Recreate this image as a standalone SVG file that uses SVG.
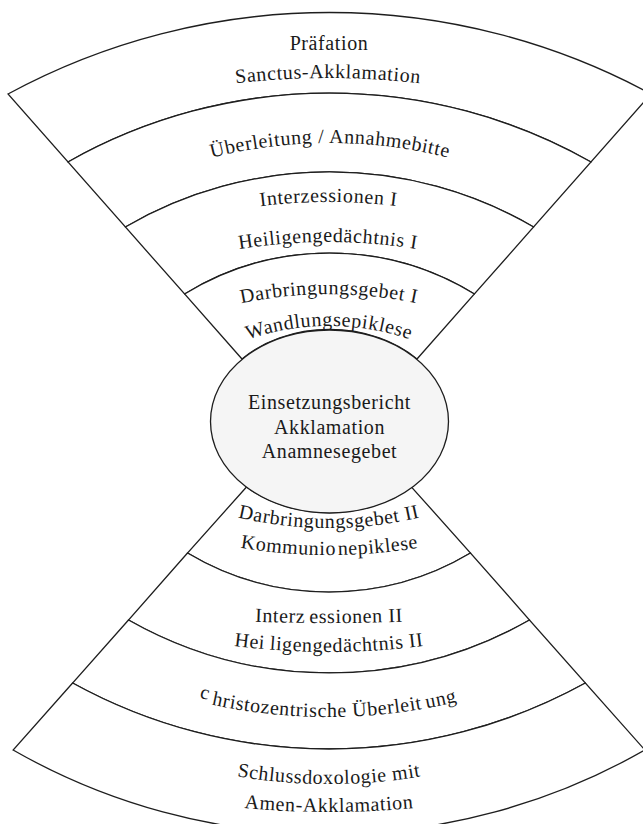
<svg xmlns="http://www.w3.org/2000/svg" xmlns:xlink="http://www.w3.org/1999/xlink" width="643" height="824" viewBox="0 0 643 824">
<style>
.band{fill:#ffffff;stroke:#1e1e1e;stroke-width:1.3;stroke-linejoin:miter}
.core{fill:#f5f5f5;stroke:#1e1e1e;stroke-width:1.3}
.t{font-family:"Liberation Serif","DejaVu Serif",serif;font-size:20px;letter-spacing:0.6px;fill:#1a1a1a;text-anchor:middle}
</style>
<defs>
<path id="p2" d="M178 92.2 A800 800 0 0 1 478 92.2"/>
<path id="p3" d="M180 167 A480 480 0 0 1 480 167"/>
<path id="p4" d="M178.5 222.5 A560 560 0 0 1 478.5 222.5"/>
<path id="p5" d="M178 262.5 A560 560 0 0 1 478 262.5"/>
<path id="p6" d="M179 321.2 A430 430 0 0 1 479 321.2"/>
<path id="p7" d="M179 376 A250 250 0 0 1 479 376"/>
<path id="p8" d="M179 498.8 A400 400 0 0 0 479 498.8"/>
<path id="p9" d="M179.5 534.2 A550 550 0 0 0 479.5 534.2"/>
<path id="p10" d="M179 617.4 A2000 2000 0 0 0 479 617.4"/>
<path id="p11" d="M179 636.8 A750 750 0 0 0 479 636.8"/>
<path id="p12" d="M178 696.2 A550 550 0 0 0 478 696.2"/>
<path id="p13" d="M179 763.2 A550 550 0 0 0 479 763.2"/>
<path id="p14" d="M179 799.4 A900 900 0 0 0 479 799.4"/>
</defs>

<g id="top-band-1">
<path class="band" d="M8 94 A675 675 0 0 1 651 94 L591 162 A531 531 0 0 0 68 162 Z"/>
<text class="t" x="329" y="50">Präfation</text>
<text class="t"><textPath href="#p2" xlink:href="#p2" startOffset="50%">Sanctus-Akklamation</textPath></text>
</g>

<g id="top-band-2">
<path class="band" d="M68 162 A531 531 0 0 1 591 162 L533.6 227 A406 406 0 0 0 125.4 227 Z"/>
<text class="t"><textPath href="#p3" xlink:href="#p3" startOffset="50%">Überleitung / Annahmebitte</textPath></text>
</g>

<g id="top-band-3">
<path class="band" d="M125.4 227 A406 406 0 0 1 533.6 227 L474.4 294 A277 277 0 0 0 184.6 294 Z"/>
<text class="t"><textPath href="#p4" xlink:href="#p4" startOffset="50%">Interzessionen I</textPath></text>
<text class="t"><textPath href="#p5" xlink:href="#p5" startOffset="50%">Heiligengedächtnis I</textPath></text>
</g>

<g id="top-band-4">
<path class="band" d="M184.6 294 A277 277 0 0 1 474.4 294 L417 359 A119 91.5 0 0 0 242 359 Z"/>
<text class="t"><textPath href="#p6" xlink:href="#p6" startOffset="50%">Darbringungsgebet I</textPath></text>
<text class="t"><textPath href="#p7" xlink:href="#p7" startOffset="50%">Wandlungsepiklese</textPath></text>
</g>

<g id="bottom-band-1">
<path class="band" d="M246.5 487 L187.5 553 A276 276 0 0 0 470.5 553 L411.5 487 A119 91.5 0 0 1 246.5 487 Z"/>
<text class="t"><textPath href="#p8" xlink:href="#p8" startOffset="50%">Darbringungsgebet II</textPath></text>
<text class="t"><textPath href="#p9" xlink:href="#p9" startOffset="50%">Kommunio<tspan dx="2">nepiklese</tspan></textPath></text>
</g>

<g id="bottom-band-2">
<path class="band" d="M187.5 553 L128.5 620 A406 406 0 0 0 529.5 620 L470.5 553 A276 276 0 0 1 187.5 553 Z"/>
<text class="t"><textPath href="#p10" xlink:href="#p10" startOffset="50%">Interz<tspan dx="4">essionen II</tspan></textPath></text>
<text class="t"><textPath href="#p11" xlink:href="#p11" startOffset="50%">Hei<tspan dx="5">ligengedächtnis II</tspan></textPath></text>
</g>

<g id="bottom-band-3">
<path class="band" d="M128.5 620 L72.6 683 A531 531 0 0 0 585.4 683 L529.5 620 A406 406 0 0 1 128.5 620 Z"/>
<text class="t"><textPath href="#p12" xlink:href="#p12" startOffset="50%"><tspan dy="-4">c</tspan><tspan dx="4" dy="4">hristozentrische Überleit</tspan><tspan dx="4">ung</tspan></textPath></text>
</g>

<g id="bottom-band-4">
<path class="band" d="M72.6 683 L13.1 750 A636 636 0 0 0 644.9 750 L585.4 683 A531 531 0 0 1 72.6 683 Z"/>
<text class="t"><textPath href="#p13" xlink:href="#p13" startOffset="50%">Schlussdoxologie mit</textPath></text>
<text class="t"><textPath href="#p14" xlink:href="#p14" startOffset="50%">Amen-Akklamation</textPath></text>
</g>

<g id="core">
<ellipse class="core" cx="329.5" cy="421.5" rx="119" ry="91.5"/>
<text class="t" x="329.5" y="409">Einsetzungsbericht</text>
<text class="t" x="329.5" y="434">Akklamation</text>
<text class="t" x="329.5" y="458">Anamnesegebet</text>
</g>
</svg>
